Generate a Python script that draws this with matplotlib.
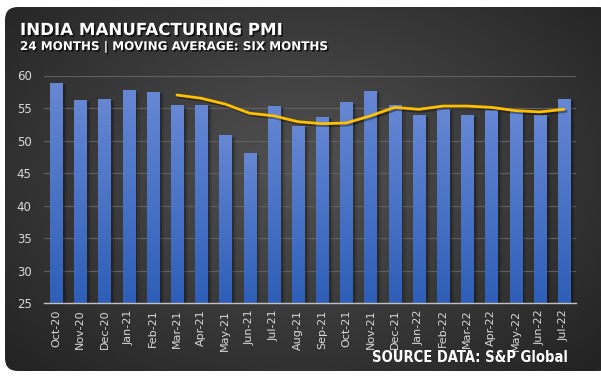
import matplotlib
matplotlib.use("Agg")
import matplotlib.pyplot as plt
import matplotlib.patheffects as pe
import numpy as np
from matplotlib.patches import FancyBboxPatch

# India manufacturing PMI, Oct-20 .. Jul-22
months = ['Oct-20', 'Nov-20', 'Dec-20', 'Jan-21', 'Feb-21', 'Mar-21', 'Apr-21',
          'May-21', 'Jun-21', 'Jul-21', 'Aug-21', 'Sep-21', 'Oct-21', 'Nov-21',
          'Dec-21', 'Jan-22', 'Feb-22', 'Mar-22', 'Apr-22', 'May-22', 'Jun-22',
          'Jul-22']
pmi = [58.9, 56.3, 56.4, 57.7, 57.5, 55.4, 55.5, 50.8, 48.1, 55.3, 52.3, 53.7,
       55.9, 57.6, 55.5, 54.0, 54.9, 54.0, 54.7, 54.6, 53.9, 56.4]
# six month moving average, starts at Mar-21
ma_start = 5
moving_avg = [57.0, 56.5, 55.6, 54.2, 53.8, 52.9, 52.6, 52.7, 53.8, 55.1,
              54.8, 55.3, 55.3, 55.1, 54.6, 54.4, 54.8]

W, H = 601, 377
fig = plt.figure(figsize=(W / 100, H / 100), dpi=100, facecolor='white')

# card background with radial gradient
bg = fig.add_axes([0, 0, 1, 1])
bg.set_xlim(0, W)
bg.set_ylim(H, 0)
bg.axis('off')
card = FancyBboxPatch((5 + 13, 7 + 13), W - 5 - 26 + 10, 364 - 26,
                      boxstyle='round,pad=13', fc='none', ec='none')
bg.add_patch(card)
yy, xx = np.mgrid[0:H, 0:W]
r = np.sqrt(((xx - 300) / 380.0) ** 2 + ((yy - 170) / 260.0) ** 2)
shade = np.clip(0.32 - 0.17 * r, 0.14, 0.32)
img = bg.imshow(np.dstack([shade] * 3), extent=(0, W, H, 0), zorder=0,
                interpolation='bilinear')
img.set_clip_path(card)

# main chart
ax = fig.add_axes([44 / W, 1 - 303.3 / H, 532 / W, 227.8 / H])
ax.set_facecolor('none')
x = np.arange(len(months))
bars = ax.bar(x, pmi, width=0.5, bottom=0, color='#2f5db8', zorder=2,
              path_effects=[pe.SimplePatchShadow(offset=(2, -1), alpha=0.25,
                                                 shadow_rgbFace='black'),
                            pe.SimplePatchShadow(offset=(3.5, -1.5), alpha=0.12,
                                                 shadow_rgbFace='black'),
                            pe.Normal()])
grad = np.linspace(0, 1, 100).reshape(-1, 1)
top = np.array([0.40, 0.53, 0.83])
bot = np.array([0.18, 0.37, 0.72])
grad_img = bot + (top - bot) * grad[..., None]
for b in bars:
    x0, w, h = b.get_x(), b.get_width(), b.get_height()
    im = ax.imshow(grad_img, extent=(x0, x0 + w, 25, h), origin='lower',
                   aspect='auto', zorder=3)
    im.set_clip_path(b)

ax.plot(x[ma_start:], moving_avg, color='#ffc000', lw=2, zorder=4,
        solid_capstyle='round',
        path_effects=[pe.SimpleLineShadow(offset=(1.5, -1.5), alpha=0.35,
                                          shadow_color='black'),
                      pe.Normal()])

ax.set_xlim(-0.5, len(months) - 0.5)
ax.set_ylim(25, 60)
ax.set_yticks(range(25, 61, 5))
ax.set_xticks(x)
ax.set_xticklabels(months, rotation=90)
ax.grid(axis='y', color='#5e5e5e', lw=0.9, zorder=1)
ax.set_axisbelow(True)
for s in ['top', 'right', 'left']:
    ax.spines[s].set_visible(False)
ax.spines['bottom'].set_color('#bfbfbf')
ax.spines['bottom'].set_linewidth(1)
ax.spines['bottom'].set_zorder(5)
ax.tick_params(axis='both', length=0, colors='#d9d9d9')
ax.tick_params(axis='y', pad=9, labelsize=8.5)
ax.tick_params(axis='x', pad=4.5, labelsize=8)

txt_shadow = [pe.withSimplePatchShadow(offset=(1.2, -1.2), alpha=0.7,
                                       shadow_rgbFace='black')]
fig.text(20 / W, 1 - 30 / H, 'INDIA MANUFACTURING PMI', color='white',
         fontsize=12, fontweight='bold', va='center', ha='left',
         path_effects=txt_shadow)
fig.text(20 / W, 1 - 46.5 / H, '24 MONTHS | MOVING AVERAGE: SIX MONTHS',
         color='white', fontsize=8.6, fontweight='bold', va='center',
         ha='left', path_effects=txt_shadow)
fig.text(568 / W, 1 - 357 / H, 'SOURCE DATA: S&P Global', color='white',
         fontsize=10.5, fontweight='bold', va='center', ha='right',
         family='DejaVu Sans', fontstretch='condensed')

fig.savefig('out.png', dpi=100, facecolor='white')
